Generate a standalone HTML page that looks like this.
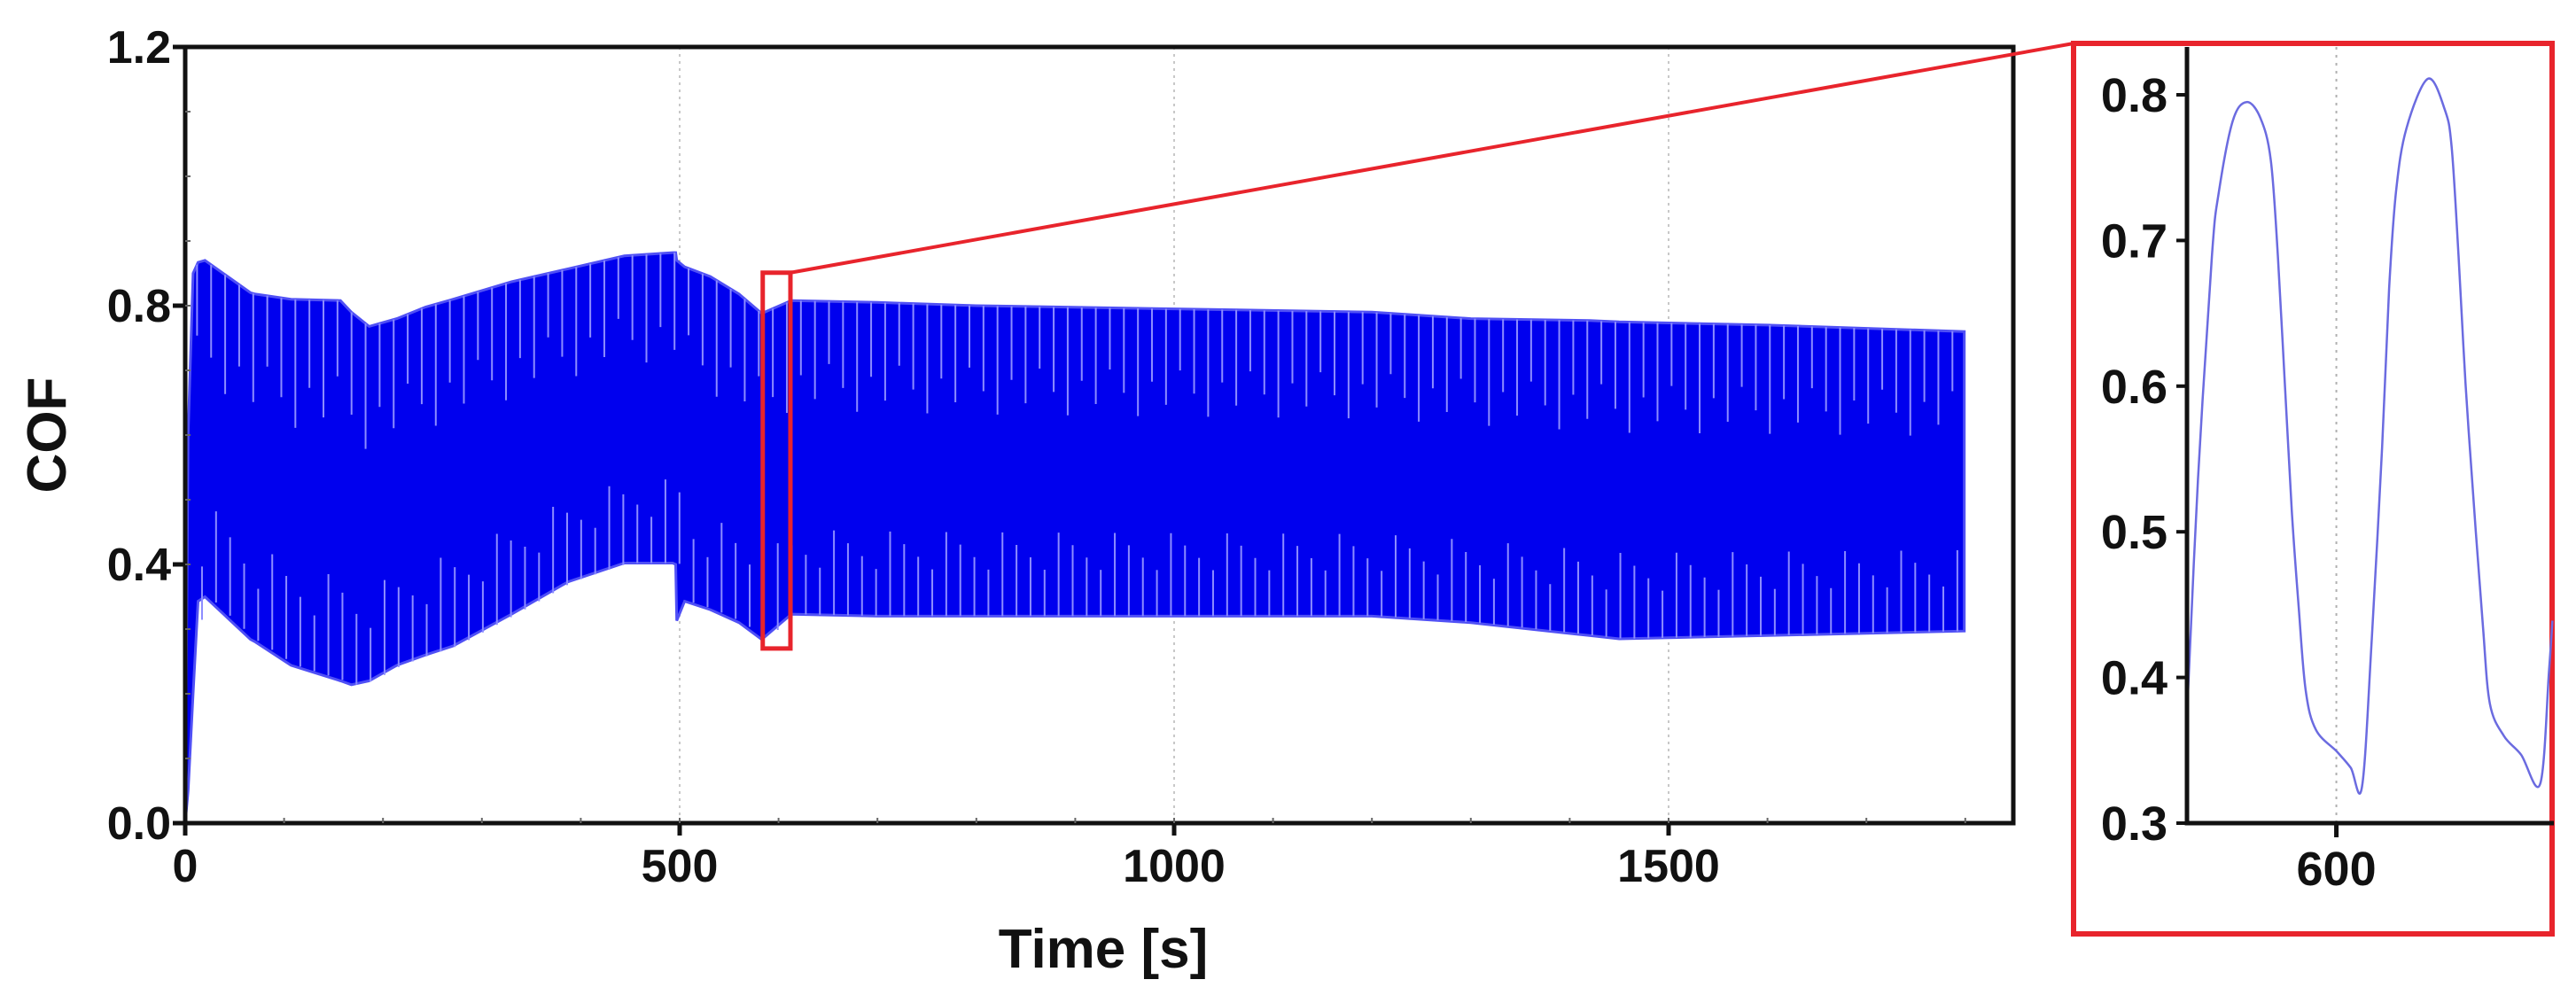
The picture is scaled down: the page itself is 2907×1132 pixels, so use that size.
<!DOCTYPE html>
<html><head><meta charset="utf-8">
<style>
html,body{margin:0;padding:0;background:#fff;}
svg{display:block;}
text{font-family:"Liberation Sans",sans-serif;font-weight:bold;fill:#111;}
</style></head>
<body>
<svg id="chart" width="2907" height="1132" viewBox="0 0 2907 1132" xmlns="http://www.w3.org/2000/svg">
  <g id="main"></g>
  <g id="inset"></g>
  <text x="1245" y="1092" font-size="62" text-anchor="middle">Time [s]</text>
  <text x="0" y="0" font-size="62" text-anchor="middle" transform="translate(74,491) rotate(-90)">COF</text>
</svg>
<script>
// ---- main chart data ----
const envTimes = [0, 3, 8, 13, 20, 66, 71, 107, 157, 168, 186, 214, 243, 271, 330, 387, 444, 493, 496, 497, 505, 531, 560, 583, 613, 700, 800, 1000, 1200, 1300, 1420, 1450, 1600, 1799];
const upperEnv = [0.02, 0.60, 0.85, 0.867, 0.87, 0.82, 0.818, 0.81, 0.808, 0.79, 0.768, 0.78, 0.798, 0.81, 0.837, 0.857, 0.877, 0.882, 0.882, 0.87, 0.86, 0.845, 0.818, 0.788, 0.808, 0.805, 0.80, 0.795, 0.79, 0.78, 0.777, 0.775, 0.77, 0.76];
const lowerEnv = [0.0, 0.05, 0.20, 0.343, 0.35, 0.284, 0.28, 0.244, 0.22, 0.214, 0.22, 0.244, 0.26, 0.274, 0.323, 0.373, 0.402, 0.402, 0.40, 0.313, 0.343, 0.33, 0.31, 0.284, 0.323, 0.32, 0.32, 0.32, 0.32, 0.31, 0.29, 0.285, 0.29, 0.297];
const cyclePeriod = 14.2;
const xTicks = [0, 500, 1000, 1500];
const xTickLabels = ["0", "500", "1000", "1500"];
const yTicks = [0.0, 0.4, 0.8, 1.2];
const yTickLabels = ["0.0", "0.4", "0.8", "1.2"];
const zoomWindow = [584, 612, 0.27, 0.851];
// ---- inset data ----
const insetTimes = [588.64, 589.44, 590.50, 591.03, 592.09, 593.15, 594.21, 595.0, 595.54, 596.07, 596.60, 597.13, 597.66, 598.45, 600.05, 601.10, 601.96, 602.70, 603.49, 604.03, 604.55, 605.35, 606.99, 608.27, 608.80, 609.33, 609.86, 610.53, 611.19, 611.72, 612.78, 614.10, 615.56, 616.23, 616.49];
const insetCof = [0.382, 0.536, 0.689, 0.733, 0.782, 0.795, 0.784, 0.755, 0.689, 0.602, 0.514, 0.448, 0.391, 0.364, 0.349, 0.338, 0.325, 0.426, 0.558, 0.667, 0.733, 0.777, 0.811, 0.790, 0.764, 0.689, 0.602, 0.514, 0.435, 0.382, 0.360, 0.347, 0.327, 0.404, 0.439];
const insetXTicks = [600];
const insetXTickLabels = ["600"];
const insetYTicks = [0.3, 0.4, 0.5, 0.6, 0.7, 0.8];
const insetYTickLabels = ["0.3", "0.4", "0.5", "0.6", "0.7", "0.8"];

const NS = "http://www.w3.org/2000/svg";
function mk(tag, attrs, parent){const e=document.createElementNS(NS,tag);for(const k in attrs)e.setAttribute(k,attrs[k]);parent.appendChild(e);return e;}

const M = {x0:209, x1:2272, yTop:53, yBot:929, tMin:0, tMax:(2272-209)/1.116, vMin:0, vMax:1.2};
const mx = t => M.x0 + (t - M.tMin) / (M.tMax - M.tMin) * (M.x1 - M.x0);
const my = v => M.yBot - (v - M.vMin) / (M.vMax - M.vMin) * (M.yBot - M.yTop);
function interp(ts, vs, t){
  if (t <= ts[0]) return vs[0];
  for (let i=1;i<ts.length;i++){ if (t <= ts[i]) { const f=(t-ts[i-1])/(ts[i]-ts[i-1]); return vs[i-1]+f*(vs[i]-vs[i-1]); } }
  return vs[vs.length-1];
}
const main = document.getElementById('main');

xTicks.slice(1).forEach(t => {
  const g = mk('line',{x1:mx(t),x2:mx(t),y1:M.yTop,y2:M.yBot,stroke:'#c8c8c8','stroke-width':2,'stroke-dasharray':'3,5'},main);
  
  
});

let pts = [];
envTimes.forEach((t,i)=>pts.push(mx(t).toFixed(1)+','+my(upperEnv[i]).toFixed(1)));
for (let i=envTimes.length-1;i>=0;i--) pts.push(mx(envTimes[i]).toFixed(1)+','+my(lowerEnv[i]).toFixed(1));
const band = mk('polygon',{points:pts.join(' '),fill:'#0000ee',stroke:'#5050f5','stroke-width':3},main);



const tEnd = envTimes[envTimes.length-1];
let k = 0;
for (let t = 12; t < tEnd - 3; t += cyclePeriod, k++) {
  const u = interp(envTimes, upperEnv, t), l = interp(envTimes, lowerEnv, t);
  const span = u - l;
  const a = 0.2 + 0.15*((k*7)%5)/4;
  const b = 0.15 + 0.12*((k*3)%4)/3;
  const s1 = mk('line',{x1:mx(t),x2:mx(t),y1:my(u),y2:my(u - span*a),stroke:'#8c8cff','stroke-width':2},main);
  
  
  const s2 = mk('line',{x1:mx(t+5),x2:mx(t+5),y1:my(l),y2:my(l + span*b),stroke:'#8c8cff','stroke-width':2},main);
  
  
}

const frame = mk('rect',{x:M.x0,y:M.yTop,width:M.x1-M.x0,height:M.yBot-M.yTop,fill:'none',stroke:'#111','stroke-width':5},main);



for (let t=100;t<M.tMax;t+=100){ const m=mk('line',{x1:mx(t),x2:mx(t),y1:M.yBot,y2:M.yBot-6,stroke:'#666','stroke-width':2},main);   }
for (let v=0.1;v<1.2;v+=0.1){ const m=mk('line',{x1:M.x0,x2:M.x0+6,y1:my(v),y2:my(v),stroke:'#666','stroke-width':2},main);   }

xTicks.forEach((t,i)=>{
  const tk = mk('line',{x1:mx(t),x2:mx(t),y1:M.yBot,y2:M.yBot+14,stroke:'#111','stroke-width':5},main);
  
  
  const lb = mk('text',{x:mx(t),y:M.yBot+66,'font-size':52,'text-anchor':'middle'},main);
  lb.textContent = xTickLabels[i];
  
  
});
yTicks.forEach((v,i)=>{
  const tk = mk('line',{x1:M.x0-14,x2:M.x0,y1:my(v),y2:my(v),stroke:'#111','stroke-width':5},main);
  
  
  const lb = mk('text',{x:M.x0-16,y:my(v)+18,'font-size':52,'text-anchor':'end'},main);
  lb.textContent = yTickLabels[i];
  
  
});

const zx0 = mx(zoomWindow[0]), zx1 = mx(zoomWindow[1]), zyB = my(zoomWindow[2]), zyT = my(zoomWindow[3]);
const zb = mk('rect',{x:zx0,y:zyT,width:zx1-zx0,height:zyB-zyT,fill:'none',stroke:'#e8242c','stroke-width':5},main);


const cn = mk('line',{x1:zx1,y1:zyT,x2:2340,y2:49,stroke:'#e8242c','stroke-width':4},main);



// ---- inset ----
const inset = document.getElementById('inset');
const I = {x0:2468, x1:2882, yTop:53, yBot:929, tMin:588.6, tMax:616.6, vMin:0.3, vMax:0.8 + (107-53)/1644};
const ix = t => I.x0 + (t - I.tMin)/(I.tMax - I.tMin)*(I.x1 - I.x0);
const iy = v => I.yBot - (v - I.vMin)/(I.vMax - I.vMin)*(I.yBot - I.yTop);

const ib = mk('rect',{x:2340,y:49,width:2880-2340,height:1054-49,fill:'none',stroke:'#e8242c','stroke-width':6},inset);



insetXTicks.forEach(t=>{
  const g = mk('line',{x1:ix(t),x2:ix(t),y1:I.yTop,y2:I.yBot,stroke:'#b0b0b0','stroke-width':2,'stroke-dasharray':'3,6'},inset);
  
  
});

// smooth Catmull-Rom path
const P = insetTimes.map((t,i)=>[ix(t), iy(insetCof[i])]);
let d = `M${P[0][0].toFixed(1)},${P[0][1].toFixed(1)}`;
for (let i=0;i<P.length-1;i++){
  const p0=P[Math.max(0,i-1)], p1=P[i], p2=P[i+1], p3=P[Math.min(P.length-1,i+2)];
  const c1=[p1[0]+(p2[0]-p0[0])/6, p1[1]+(p2[1]-p0[1])/6];
  const c2=[p2[0]-(p3[0]-p1[0])/6, p2[1]-(p3[1]-p1[1])/6];
  d += ` C${c1[0].toFixed(1)},${c1[1].toFixed(1)} ${c2[0].toFixed(1)},${c2[1].toFixed(1)} ${p2[0].toFixed(1)},${p2[1].toFixed(1)}`;
}
const il = mk('path',{d:d,fill:'none',stroke:'#6b6be0','stroke-width':2.5,'stroke-linejoin':'round'},inset);



const iax = mk('path',{d:`M${I.x0},${I.yTop} L${I.x0},${I.yBot} L${I.x1},${I.yBot}`,fill:'none',stroke:'#111','stroke-width':5},inset);



insetYTicks.forEach((v,i)=>{
  const tk = mk('line',{x1:I.x0-12,x2:I.x0,y1:iy(v),y2:iy(v),stroke:'#111','stroke-width':4},inset);
  
  
  const lb = mk('text',{x:I.x0-22,y:iy(v)+19,'font-size':54,'text-anchor':'end'},inset);
  lb.textContent = insetYTickLabels[i];
  
  
});
insetXTicks.forEach((t,i)=>{
  const tk = mk('line',{x1:ix(t),x2:ix(t),y1:I.yBot,y2:I.yBot+16,stroke:'#111','stroke-width':5},inset);
  
  
  const lb = mk('text',{x:ix(t),y:I.yBot+70,'font-size':54,'text-anchor':'middle'},inset);
  lb.textContent = insetXTickLabels[i];
  
  
});
</script>
</body></html>
